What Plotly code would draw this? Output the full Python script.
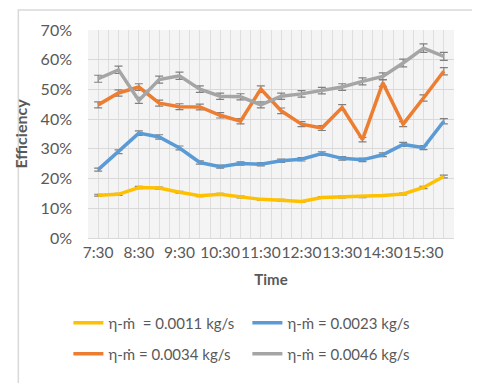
import plotly.graph_objects as go

times = ["7:30", "8:00", "8:30", "9:00", "9:30", "10:00", "10:30", "11:00", "11:30",
         "12:00", "12:30", "13:00", "13:30", "14:00", "14:30", "15:00", "15:30", "16:00"]
eff_0011 = [14.4, 14.7, 17.0, 16.8, 15.4, 14.2, 14.7, 13.8, 13.0, 12.7, 12.3, 13.6, 13.8, 13.9, 14.3, 14.8, 17.0, 20.7]
eff_0023 = [23.0, 29.0, 35.3, 34.0, 30.3, 25.4, 24.0, 25.1, 24.8, 26.0, 26.5, 28.4, 26.8, 26.3, 28.0, 31.5, 30.4, 39.3]
eff_0034 = [44.8, 48.8, 50.8, 45.4, 44.2, 44.1, 41.3, 39.3, 50.1, 42.8, 38.3, 37.0, 43.9, 33.1, 52.2, 38.3, 47.1, 56.1]
eff_0046 = [53.6, 56.6, 46.3, 53.3, 54.6, 50.1, 47.7, 47.5, 44.8, 47.7, 48.5, 49.6, 50.8, 52.7, 54.4, 58.9, 63.9, 61.1]
series_names = ["η-ṁ  = 0.0011 kg/s", "η-ṁ = 0.0023 kg/s", "η-ṁ = 0.0034 kg/s", "η-ṁ = 0.0046 kg/s"]
series_colors = ["#FFC000", "#5B9BD5", "#ED7D31", "#A5A5A5"]
y_ticks = [0, 10, 20, 30, 40, 50, 60, 70]

x_idx = list(range(len(times)))
fig = go.Figure()
for i, (vals, name, col) in enumerate(zip([eff_0011, eff_0023, eff_0034, eff_0046], series_names, series_colors)):
    fig.add_trace(go.Scatter(
        x=x_idx, y=vals, name=name, mode="lines",
        line=dict(color=col, width=3.5),
        error_y=dict(type="percent", value=2.2, color="#808080", thickness=1.2, width=4),
        legend="legend" if i < 2 else "legend2",
    ))

W, H = 480, 383
L, R, T, B = 73, 34, 22, 153
pw, ph = W - L - R, H - T - B

def px2x(px):
    return (px - L) / pw

def py2y(py):
    return (H - B - py) / ph

font_fam = "Lato, Open Sans, sans-serif"
fig.update_layout(
    width=W, height=H,
    margin=dict(l=L, r=R, t=T, b=B),
    paper_bgcolor="white", plot_bgcolor="#f4f4f4",
    font=dict(family=font_fam, color="#595959", size=15),
    xaxis=dict(
        range=[-0.5, len(times) - 0.5],
        tickmode="array", tickvals=x_idx[::2], ticktext=times[::2],
        showgrid=False, zeroline=False, ticks="", tickangle=0,
        tickfont=dict(size=15.5, color="#595959"),
        title=dict(text="<b>Time</b>", font=dict(size=15, color="#595959"), standoff=14),
        minor=dict(dtick=0.5, tick0=-0.5, showgrid=True, gridcolor="#dedede", gridwidth=1),
        showline=True, linecolor="#d9d9d9", linewidth=1,
    ),
    yaxis=dict(
        range=[0, 70], tickmode="array", tickvals=y_ticks,
        ticktext=[f"{v}%" for v in y_ticks],
        showgrid=True, gridcolor="#d9d9d9", gridwidth=1, zeroline=False,
        tickfont=dict(size=16, color="#595959"), ticks="", ticklen=0,
        ticklabelstandoff=15,
        title=dict(text="<b>Efficiency</b>", font=dict(size=16, color="#595959"), standoff=9),
    ),
    legend=dict(orientation="h", x=px2x(53), xanchor="left", y=py2y(315), yanchor="middle",
                entrywidth=134, entrywidthmode="pixels", font=dict(size=15, color="#595959"),
                bgcolor="rgba(0,0,0,0)"),
    legend2=dict(orientation="h", x=px2x(53), xanchor="left", y=py2y(346), yanchor="middle",
                 entrywidth=134, entrywidthmode="pixels", font=dict(size=15, color="#595959"),
                 bgcolor="rgba(0,0,0,0)"),
    showlegend=True,
    shapes=[dict(type="rect", xref="paper", yref="paper",
                 x0=px2x(2), x1=px2x(477), y0=py2y(378), y1=py2y(2),
                 line=dict(color="#d9d9d9", width=1.5), fillcolor="rgba(0,0,0,0)", layer="below")],
)
fig.write_html("out.html")
